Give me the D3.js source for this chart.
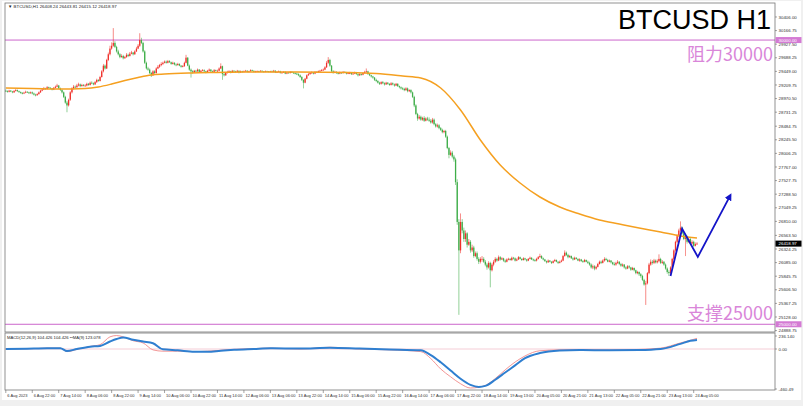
<!DOCTYPE html>
<html><head><meta charset="utf-8">
<script src="https://cdn.jsdelivr.net/npm/d3@7"></script>
<style>html,body{margin:0;padding:0;background:#fff;overflow:hidden}</style>
</head><body>
<svg id="c" width="803" height="406"></svg>
<script>
// ---------------- DATA ----------------
const symbolHeader = "\u25BC BTCUSD,H1  26408.24 26443.81 26415.12 26418.97";
const macdHeader = "MACD(12,26,9) 104.426 104.426  \u2022\u2022MA(9) 123.078";
const title = "BTCUSD H1";
const resistanceLabel = "阻力30000";
const supportLabel = "支撑25000";
const resistance = 30000, support = 25000;
const lastPrice = 26418.97;
const firstOpen = 29110;

const closes = [
29100,29090,29110,29095,29080,29105,29120,29100,29085,29070,29060,29075,29090,29080,29065,29080,
29060,29040,29030,29050,29080,29110,29130,29150,29140,29170,29160,29150,29130,29160,29180,29200,
29150,29120,29080,29000,28900,28850,28950,29080,29150,29180,29170,29200,29220,29190,29210,29200,
29200,29230,29210,29250,29240,29220,29260,29300,29280,29350,29450,29550,29500,29650,29750,29850,
29900,29950,29880,29800,29750,29700,29720,29680,29700,29740,29720,29760,29780,29750,29800,29850,
29900,30000,29950,29800,29600,29500,29480,29420,29380,29450,29420,29500,29530,29560,29580,29600,
29620,29600,29630,29610,29580,29600,29570,29560,29580,29550,29530,29540,29600,29690,29550,29480,
29450,29430,29460,29450,29480,29440,29460,29470,29450,29430,29460,29480,29450,29440,29470,29460,
29460,29500,29540,29400,29380,29420,29440,29450,29430,29460,29450,29440,29460,29430,29450,29440,
29450,29460,29440,29450,29470,29460,29440,29450,29455,29445,29460,29450,29440,29455,29450,29445,
29450,29440,29460,29430,29440,29450,29420,29430,29440,29410,29430,29420,29440,29430,29420,29410,
29400,29380,29350,29300,29250,29320,29380,29400,29420,29430,29410,29440,29430,29450,29460,29470,
29480,29520,29600,29650,29550,29450,29430,29440,29420,29410,29430,29420,29440,29430,29410,29420,
29420,29400,29410,29430,29400,29380,29400,29390,29420,29440,29450,29400,29380,29360,29340,29300,
29280,29250,29230,29260,29240,29220,29250,29230,29210,29240,29220,29200,29230,29190,29170,29150,
29140,29120,29150,29100,29120,29080,29000,28850,28700,28620,28650,28600,28630,28580,28620,28600,
28580,28550,28600,28520,28480,28500,28450,28420,28380,28400,28300,28100,27980,28020,27950,27900,
27500,26800,26300,26800,26650,26500,26600,26400,26450,26300,26350,26200,26250,26150,26100,26150,
26150,26100,26050,26000,26080,25950,26050,26100,26150,26120,26180,26140,26160,26120,26100,26140,
26150,26130,26170,26160,26120,26140,26180,26150,26130,26160,26140,26120,26150,26170,26140,26130,
26120,26150,26180,26200,26160,26140,26110,26090,26120,26100,26080,26110,26130,26100,26080,26100,
26120,26200,26260,26220,26180,26200,26160,26140,26170,26150,26120,26140,26110,26100,26130,26100,
26080,26050,26000,26020,25980,26010,26060,26100,26080,26120,26150,26130,26100,26120,26090,26060,
26050,26080,26100,26060,26030,26050,26000,25980,26020,26000,25960,25990,25950,25900,25920,25880,
25850,25780,25700,25720,25900,26050,26100,26080,26120,26090,26110,26150,26080,26100,26050,25980,
25920,25900,26000,26150,26300,26450,26550,26650,26700,26600,26500,26550,26450,26500,26420,26450,
26380,26410,26418.97];

const highs = [
29130,29115,29125,29120,29105,29120,29140,29130,29110,29095,29085,29090,29110,29100,29090,29095,
29095,29075,29055,29065,29095,29125,29150,29175,29160,29190,29180,29170,29155,29175,29200,29230,
29210,29165,29135,29095,29020,28930,28970,29100,29170,29210,29200,29230,29250,29235,29230,29225,
29225,29250,29245,29270,29275,29255,29280,29320,29310,29370,29470,29580,29570,29670,29780,29900,
29960,30210,29980,29900,29830,29770,29750,29740,29720,29770,29760,29790,29810,29790,29820,29880,
29930,30120,30040,29970,29820,29620,29530,29500,29440,29470,29470,29520,29560,29580,29610,29620,
29640,29640,29650,29645,29620,29620,29610,29590,29600,29590,29560,29560,29620,29740,29700,29570,
29500,29470,29475,29475,29500,29490,29475,29490,29485,29460,29475,29500,29490,29465,29490,29480,
29480,29520,29590,29550,29420,29435,29460,29470,29460,29475,29470,29460,29475,29465,29465,29460,
29465,29475,29470,29460,29485,29480,29465,29460,29465,29460,29470,29465,29455,29465,29460,29455,
29460,29465,29475,29470,29450,29465,29460,29440,29455,29450,29440,29440,29455,29450,29435,29430,
29425,29415,29395,29365,29310,29335,29395,29420,29435,29450,29440,29455,29450,29465,29475,29490,
29500,29540,29630,29700,29670,29560,29470,29460,29450,29435,29445,29440,29455,29450,29440,29435,
29440,29435,29425,29445,29440,29410,29415,29410,29435,29460,29500,29460,29410,29390,29370,29350,
29320,29295,29265,29275,29280,29255,29265,29260,29240,29260,29255,29235,29245,29240,29200,29185,
29170,29160,29170,29165,29135,29135,29095,29020,28870,28720,28680,28670,28650,28660,28640,28650,
28640,28610,28630,28620,28540,28530,28520,28470,28440,28420,28420,28320,28120,28060,28050,27980,
27930,27550,26850,26950,26850,26700,26650,26620,26500,26480,26400,26380,26280,26280,26180,26180,
26200,26180,26130,26080,26110,26100,26080,26130,26180,26170,26210,26200,26180,26170,26140,26160,
26170,26165,26190,26185,26175,26160,26200,26190,26160,26180,26170,26150,26165,26190,26180,26155,
26150,26170,26200,26240,26215,26175,26150,26120,26140,26130,26110,26125,26150,26140,26110,26120,
26140,26220,26300,26280,26240,26220,26210,26180,26190,26180,26160,26160,26150,26130,26150,26140,
26120,26100,26070,26050,26040,26030,26080,26120,26120,26140,26180,26170,26150,26140,26130,26100,
26090,26100,26130,26110,26080,26070,26060,26020,26040,26040,26010,26010,26000,25960,25940,25930,
25900,25870,25800,25760,25920,26080,26140,26130,26150,26140,26140,26230,26170,26130,26110,26070,
26000,25950,26020,26170,26320,26470,26580,26680,26810,26720,26620,26580,26560,26530,26520,26480,
26470,26440,26443.81];

const lows = [
29085,29075,29080,29085,29065,29070,29095,29090,29070,29055,29045,29050,29065,29070,29050,29055,
29045,29025,29010,29020,29040,29070,29100,29120,29125,29130,29145,29135,29115,29120,29150,29170,
29140,29105,29060,28980,28880,28730,28830,28930,29060,29130,29150,29160,29185,29170,29180,29185,
29180,29185,29195,29200,29225,29205,29210,29245,29265,29270,29340,29430,29480,29490,29630,29730,
29830,29880,29860,29780,29730,29680,29690,29660,29670,29690,29700,29710,29750,29730,29740,29790,
29840,29880,29930,29780,29580,29480,29460,29400,29350,29370,29400,29410,29490,29510,29540,29560,
29590,29585,29590,29600,29565,29570,29555,29540,29550,29540,29515,29520,29530,29590,29540,29460,
29340,29410,29420,29435,29440,29425,29430,29450,29435,29415,29420,29450,29440,29420,29430,29445,
29440,29450,29490,29300,29360,29370,29410,29430,29415,29420,29435,29425,29430,29415,29420,29425,
29430,29440,29430,29430,29445,29450,29430,29435,29440,29435,29440,29440,29430,29435,29440,29435,
29435,29430,29430,29420,29420,29430,29410,29410,29420,29400,29400,29410,29410,29420,29405,29395,
29385,29365,29335,29280,29150,29240,29310,29370,29390,29405,29395,29400,29420,29420,29440,29450,
29460,29470,29510,29580,29530,29430,29410,29420,29405,29395,29400,29405,29410,29420,29395,29400,
29400,29385,29390,29400,29390,29360,29370,29375,29380,29410,29425,29390,29365,29340,29320,29280,
29260,29235,29210,29215,29225,29200,29210,29215,29195,29200,29205,29180,29190,29175,29150,29130,
29120,29100,29105,29080,29085,29060,28980,28820,28680,28580,28600,28580,28580,28560,28570,28580,
28560,28530,28530,28500,28460,28460,28430,28400,28360,28360,28280,28080,27920,27960,27920,27860,
27450,26750,25166,26250,26600,26450,26450,26350,26380,26260,26270,26170,26180,26120,26060,26070,
26100,26080,26020,25960,25980,25650,25930,26020,26080,26100,26110,26120,26130,26100,26080,26090,
26125,26120,26115,26140,26105,26110,26130,26140,26115,26120,26125,26100,26110,26140,26130,26110,
26100,26105,26140,26170,26150,26125,26100,26070,26080,26090,26060,26070,26100,26090,26060,26070,
26090,26110,26190,26200,26160,26170,26150,26120,26130,26140,26110,26100,26100,26080,26090,26090,
26060,26030,25980,25970,25950,25960,26000,26050,26060,26070,26100,26120,26090,26090,26070,26040,
26030,26030,26060,26040,26010,26010,25980,25960,25970,25980,25940,25950,25930,25880,25880,25850,
25820,25760,25680,25340,25700,25880,26030,26050,26060,26070,26070,26090,26060,26060,26030,25960,
25890,25850,25880,25980,26130,26280,26430,26530,26630,26580,26480,26200,26420,26430,26400,26400,
26360,26370,26400];

// moving average (orange), read at these bar positions
const maBars   = [0,16,32,48,56,64,72,80,88,96,112,128,144,176,208,224,240,251,263,275,287,299,311,323,335,347,359,371,383,396,408,418];
const maValues = [29157,29150,29139,29148,29175,29227,29289,29342,29386,29403,29421,29430,29438,29438,29430,29412,29368,29333,29157,28770,28242,27802,27486,27239,27063,26940,26835,26764,26694,26624,26553,26518];

// MACD pane lines, read at these bar positions
const macdBars = [0,17,25,33,37,43,51,57,63,67,71,77,83,89,95,104,114,122,130,138,150,160,178,196,214,232,251,257,263,269,275,281,286,290,296,302,308,314,323,335,347,365,383,396,408,414,418];
const macdBlue = [0,5,8,8,-24,0,27,35,86,115,133,106,86,67,-4,-15,-31,-31,-20,-10,0,8,5,15,5,-5,-15,-70,-153,-248,-342,-413,-437,-425,-354,-271,-189,-106,-47,-18,-12,-15,-12,0,59,94,104];
const macdRed  = [0,5,10,10,-30,-5,30,50,140,155,140,95,70,-10,-25,-25,-30,-25,-15,-5,5,10,0,20,0,-10,-30,-110,-230,-320,-400,-449,-440,-420,-340,-240,-150,-80,-20,-10,-8,-12,-5,10,70,100,123];

// hand-drawn forecast arrow (bar position, price)
const arrowBars   = [402,409,418.5,438];
const arrowPrices = [25850,26680,26185,27260];

const priceTicks = [30406.00,30166.75,29927.50,29688.25,29449.00,29209.75,28970.50,28731.25,28484.75,28245.50,28006.25,27767.00,27527.75,27288.50,27049.25,26810.00,26563.50,26324.25,26085.00,25845.75,25606.50,25367.25,25128.00,24888.75];
const timeLabels = ["6 Aug 2023","6 Aug 22:00","7 Aug 14:00","8 Aug 06:00","8 Aug 22:00","9 Aug 14:00","10 Aug 06:00","10 Aug 22:00","11 Aug 14:00","12 Aug 06:00","13 Aug 06:00","13 Aug 22:00","14 Aug 14:00","15 Aug 06:00","15 Aug 22:00","16 Aug 14:00","17 Aug 06:00","17 Aug 22:00","18 Aug 14:00","19 Aug 13:00","20 Aug 05:00","20 Aug 21:00","21 Aug 13:00","22 Aug 05:00","22 Aug 21:00","23 Aug 13:00","24 Aug 05:00"];
const barsPerLabel = 16;
const macdMax = 236.140, macdMin = -460.49;

// ---------------- LAYOUT ----------------
const L = 5, R = 775, T = 3, PB = 332, MT = 333, MB = 390;
const svg = d3.select("#c");
const font = "'Liberation Sans', Arial, sans-serif";

svg.append("rect").attr("width",803).attr("height",406).attr("fill","#f0f0f0");
svg.append("rect").attr("x",2).attr("y",1).attr("width",799).attr("height",399).attr("fill","#fff");

const N = closes.length;
const x = d3.scaleLinear().domain([0, N-1]).range([L+0.8, 697]);
const y = d3.scaleLinear().domain([24864, 30652]).range([PB, T]);
const ym = d3.scaleLinear().domain([macdMin, 0]).range([MB-1, 349]);

const bars = closes.map((c,i)=>({i, o: i===0 ? firstOpen : closes[i-1], c, h: highs[i], l: lows[i]}));

// clip paths
const defs = svg.append("defs");
defs.append("clipPath").attr("id","pc").append("rect").attr("x",L).attr("y",T).attr("width",R-L).attr("height",PB-T);
defs.append("clipPath").attr("id","mc").append("rect").attr("x",L).attr("y",MT).attr("width",R-L).attr("height",MB-MT);
defs.append("marker").attr("id","ah").attr("viewBox","0 0 10 10").attr("refX",6).attr("refY",5)
  .attr("markerWidth",4).attr("markerHeight",4).attr("orient","auto")
  .append("path").attr("d","M0,0 L10,5 L0,10 z").attr("fill","#1414c8");

const pg = svg.append("g").attr("clip-path","url(#pc)");
const up = "#f0302a", dn = "#3fae49";

// support / resistance lines
pg.selectAll("line.sr").data([resistance, support]).join("line")
  .attr("x1",L).attr("x2",R).attr("y1",d=>y(d)).attr("y2",d=>y(d))
  .attr("stroke","#cc66cc").attr("stroke-width",1);

// wicks
pg.selectAll("line.w").data(bars).join("line")
  .attr("x1",d=>x(d.i)).attr("x2",d=>x(d.i)).attr("y1",d=>y(d.h)).attr("y2",d=>y(d.l))
  .attr("stroke",d=>d.c>=d.o?up:dn).attr("stroke-width",0.7).attr("opacity",0.8);
// bodies
pg.selectAll("rect.b").data(bars).join("rect")
  .attr("x",d=>x(d.i)-0.65).attr("width",1.3)
  .attr("y",d=>y(Math.max(d.o,d.c)))
  .attr("height",d=>Math.max(0.8, Math.abs(y(d.o)-y(d.c))))
  .attr("fill",d=>d.c>=d.o?up:dn);

// MA
pg.append("path").datum(maBars.map((b,k)=>[b,maValues[k]]))
  .attr("d", d3.line().x(d=>x(d[0])).y(d=>y(d[1])).curve(d3.curveMonotoneX))
  .attr("fill","none").attr("stroke","#f5a020").attr("stroke-width",1.5);

// forecast arrow
pg.append("path").datum(arrowBars.map((b,k)=>[b,arrowPrices[k]]))
  .attr("d", d3.line().x(d=>x(d[0])).y(d=>y(d[1])))
  .attr("fill","none").attr("stroke","#1414c8").attr("stroke-width",1.8)
  .attr("marker-end","url(#ah)");

// texts in price pane
svg.append("text").attr("x",8).attr("y",8).text(symbolHeader)
  .attr("font-family",font).attr("font-size",4.4).attr("fill","#222");
svg.append("text").attr("x",771).attr("y",29).attr("text-anchor","end").text(title)
  .attr("font-family",font).attr("font-size",27).attr("fill","#000");
svg.append("text").attr("x",773).attr("y",y(resistance)+21).attr("text-anchor","end").text(resistanceLabel)
  .attr("font-family","'Noto Sans CJK SC', 'Noto Sans', sans-serif").attr("font-size",18).attr("fill","#d986d9");
svg.append("text").attr("x",773).attr("y",y(support)-4).attr("text-anchor","end").text(supportLabel)
  .attr("font-family","'Noto Sans CJK SC', 'Noto Sans', sans-serif").attr("font-size",18).attr("fill","#d986d9");

// MACD pane
const mg = svg.append("g").attr("clip-path","url(#mc)");
mg.append("line").attr("x1",L).attr("x2",R).attr("y1",ym(0)).attr("y2",ym(0)).attr("stroke","#f3c0cc").attr("stroke-width",0.8);
mg.append("path").datum(macdBars.map((b,k)=>[b,macdRed[k]]))
  .attr("d", d3.line().x(d=>x(d[0])).y(d=>ym(d[1])).curve(d3.curveMonotoneX))
  .attr("fill","none").attr("stroke","#ef7a7a").attr("stroke-width",0.8);
mg.append("path").datum(macdBars.map((b,k)=>[b,macdBlue[k]]))
  .attr("d", d3.line().x(d=>x(d[0])).y(d=>ym(d[1])).curve(d3.curveMonotoneX))
  .attr("fill","none").attr("stroke","#2f7fd0").attr("stroke-width",2);
svg.append("text").attr("x",7).attr("y",339).text(macdHeader)
  .attr("font-family",font).attr("font-size",4.2).attr("fill","#222");

// frames
const fr = svg.append("g").attr("fill","none").attr("stroke","#777").attr("stroke-width",0.8);
fr.append("rect").attr("x",L).attr("y",T).attr("width",R-L).attr("height",PB-T);
fr.append("rect").attr("x",L).attr("y",MT).attr("width",R-L).attr("height",MB-MT);

// price axis
const ax = svg.append("g").attr("font-family",font).attr("font-size",4.4).attr("fill","#333");
priceTicks.forEach(v=>{
  ax.append("line").attr("x1",R).attr("x2",R+2).attr("y1",y(v)).attr("y2",y(v)).attr("stroke","#666").attr("stroke-width",0.6);
  ax.append("text").attr("x",R+3.5).attr("y",y(v)+1.6).text(v.toFixed(2));
});
function tag(v, bg){
  const g = svg.append("g");
  g.append("rect").attr("x",R+0.5).attr("y",y(v)-3).attr("width",26).attr("height",6).attr("fill",bg);
  g.append("text").attr("x",R+3.5).attr("y",y(v)+1.7).text(v.toFixed(2))
   .attr("font-family",font).attr("font-size",4.4).attr("fill","#fff");
}
tag(resistance,"#d47ad4");
tag(support,"#d47ad4");
tag(lastPrice,"#000");

// macd axis
[[macdMax, Math.max(ym(macdMax), MT+3), macdMax.toFixed(3)],[0, ym(0), "0.00"],[macdMin, ym(macdMin), macdMin.toFixed(2)]].forEach(([v,py,t])=>{
  ax.append("line").attr("x1",R).attr("x2",R+2).attr("y1",py).attr("y2",py).attr("stroke","#666").attr("stroke-width",0.6);
  ax.append("text").attr("x",R+3.5).attr("y",py+1.6).text(t);
});

// time axis
const tx = svg.append("g").attr("font-family",font).attr("font-size",4.0).attr("fill","#333");
timeLabels.forEach((t,k)=>{
  const px = x(k*barsPerLabel);
  tx.append("line").attr("x1",px).attr("x2",px).attr("y1",MB).attr("y2",MB+3).attr("stroke","#666").attr("stroke-width",0.6);
  tx.append("text").attr("x",px+1.5).attr("y",MB+6.5).text(t);
});
</script>
</body></html>
